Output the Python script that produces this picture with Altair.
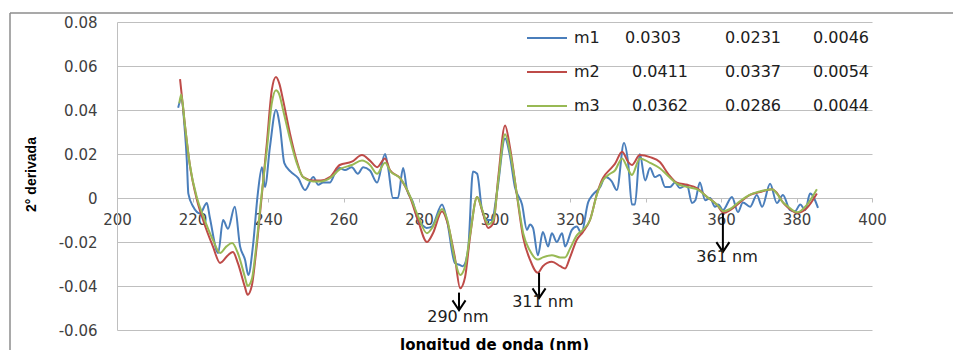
import altair as alt
import pandas as pd

# ---------------- data ----------------
series_names = ["m1", "m2", "m3"]
series_colors = ["#4A7EBB", "#BE4B48", "#98B954"]

m1_nm = [216.2, 217, 218, 218.5, 218.9, 220.2, 222, 223.8, 224.6, 226.8, 228.1, 229.4, 231.2, 232.6,
         233.9, 234.8, 236, 237.3, 238.4, 239.2, 240.5, 242.1, 243.2, 244.3, 246, 248, 249.8, 252,
         253.3, 254.6, 256.4, 257.7, 259, 260.4, 262.2, 263.8, 265.2, 267, 268.9, 271, 271.8, 273.1,
         274.4, 275.8, 276.8, 278.4, 279.7, 281, 282, 283.4, 286.1, 287.4, 289.5, 290.9, 291.6, 293,
         294.3, 295.4, 296.7, 298, 299.3, 300.7, 302.8, 304, 305.4, 307.3, 308.6, 309.4, 310.2, 311.5,
         312.8, 314.2, 315.2, 316.5, 317.9, 318.7, 320.5, 321.8, 323, 324.8, 326, 328, 329.3, 331,
         332.4, 334.3, 335.4, 336.4, 337.2, 338.5, 339.9, 341.2, 342.5, 343.8, 345.2, 346.5, 347.8,
         349.1, 351, 352.3, 353.2, 354.4, 355.8, 357.1, 358.4, 359.3, 360.5, 362.9, 364.5, 365.8,
         367.7, 369.5, 370.9, 373, 374.8, 376.4, 378.3, 379.6, 381, 382.3, 383.6, 385.7]
m1_val = [0.041, 0.045, 0.030, 0.017, 0.002, -0.004, -0.007, -0.0023, -0.009, -0.025, -0.010, -0.014,
          -0.004, -0.022, -0.028, -0.035, -0.022, 0.002, 0.014, 0.005, 0.023, 0.040, 0.032, 0.016,
          0.012, 0.009, 0.0036, 0.0095, 0.006, 0.007, 0.007, 0.011, 0.0136, 0.0127, 0.014, 0.011,
          0.014, 0.0125, 0.007, 0.020, 0.014, 0.000, 0.000, 0.0136, 0.004, -0.002, -0.010, -0.0125,
          -0.0136, -0.013, -0.003, -0.010, -0.0295, -0.0305, -0.031, -0.0236, 0.012, 0.011, -0.0055,
          -0.010, -0.010, 0.003, 0.027, 0.020, 0.005, -0.003, -0.0145, -0.012, -0.0136, -0.026,
          -0.0155, -0.022, -0.016, -0.020, -0.016, -0.022, -0.0145, -0.013, -0.016, -0.002, 0.0014,
          0.005, 0.0095, 0.0077, 0.0036, 0.025, 0.016, -0.003, -0.003, 0.020, 0.008, 0.0136, 0.0095,
          0.0105, 0.005, 0.005, 0.007, 0.0045, 0.006, -0.0023, -0.001, 0.007, -0.001, 0.000, -0.004,
          -0.003, -0.0055, 0.0005, -0.0064, -0.002, -0.004, 0.0014, -0.004, 0.0065, -0.0023, 0.0014,
          -0.0055, -0.006, -0.003, -0.0055, 0.002, -0.0045]

m2_nm = [216.7, 218, 219.3, 221.2, 222.8, 225.4, 227.3, 229.4, 230.7, 232, 233.9, 234.6, 235.7, 237,
         238.4, 239.7, 241, 242.1, 243, 244, 245.8, 247.6, 249.3, 252, 254, 256.4, 259, 262.2, 264.9,
         267, 268.9, 271, 272.3, 275, 277.6, 279.7, 282.1, 283.7, 286.1, 287.5, 289.5, 290.9, 292.2,
         293.5, 295.4, 296.7, 298.3, 299.7, 301, 302.8, 304.1, 306, 307.6, 309.4, 311.5, 312.8, 315.2,
         317.4, 318.7, 320, 321.8, 323.4, 325.3, 327.2, 328.7, 330.6, 331.9, 333.8, 335.4, 336.4,
         338.5, 341.2, 343.8, 346, 348.3, 351, 353.6, 356.3, 358.9, 360.7, 362.4, 365, 367.7, 370.3,
         373.5, 374.8, 376.4, 377.5, 380.2, 382.8, 385.4]
m2_val = [0.054, 0.033, 0.015, -0.001, -0.010, -0.022, -0.0295, -0.026, -0.0245, -0.0295, -0.0405,
          -0.044, -0.040, -0.022, 0.002, 0.025, 0.049, 0.055, 0.052, 0.0445, 0.0295, 0.017, 0.0095,
          0.008, 0.008, 0.0095, 0.015, 0.0165, 0.0195, 0.017, 0.014, 0.018, 0.0127, 0.009, 0.0005,
          -0.010, -0.020, -0.016, -0.006, -0.011, -0.027, -0.041, -0.036, -0.018, 0.0005, -0.0055,
          -0.0136, -0.0114, 0.0095, 0.033, 0.023, 0.0005, -0.018, -0.028, -0.034, -0.031, -0.029,
          -0.031, -0.032, -0.027, -0.019, -0.0155, -0.010, 0.0023, 0.009, 0.013, 0.0155, 0.021,
          0.0164, 0.015, 0.0195, 0.0186, 0.0164, 0.011, 0.007, 0.006, 0.0045, 0.0005, -0.003, -0.0068,
          -0.0055, -0.002, 0.0014, 0.0027, 0.004, 0.0023, -0.002, -0.004, -0.0068, -0.0045, 0.002]

m3_nm = [216.5, 217, 218, 219.3, 221.2, 222.8, 225.4, 227.3, 229, 230.5, 232, 233.9, 234.6, 235.7, 237,
         238.4, 239.7, 241, 242.1, 243, 244, 245.8, 247.6, 249.3, 252, 254, 256.4, 259, 262.2, 264.9,
         267, 268.9, 271, 272.5, 275, 277.6, 279.7, 282.1, 283.7, 286.1, 287.5, 289.5, 290.9, 292.2,
         293.5, 295.4, 296.7, 298.3, 299.7, 301, 302.8, 304.1, 306, 307.6, 309.4, 311.5, 312.8, 315.2,
         317.4, 318.7, 320, 321.8, 323.4, 325.3, 327.2, 328.7, 330.6, 331.9, 333.8, 335.4, 336.4,
         338.5, 341.2, 343.8, 346, 348.3, 351, 353.6, 356.3, 358.9, 360.7, 362.4, 365, 367.7, 370.3,
         373.5, 374.8, 376.4, 377.5, 380.2, 382.8, 385.4]
m3_val = [0.043, 0.047, 0.033, 0.015, 0.000, -0.008, -0.019, -0.025, -0.022, -0.0205, -0.025, -0.036,
          -0.040, -0.037, -0.020, 0.003, 0.022, 0.043, 0.049, 0.047, 0.040, 0.027, 0.016, 0.0095,
          0.0075, 0.0075, 0.009, 0.013, 0.015, 0.017, 0.015, 0.011, 0.016, 0.012, 0.009, 0.001,
          -0.008, -0.016, -0.013, -0.005, -0.010, -0.028, -0.035, -0.031, -0.017, 0.0005, -0.005,
          -0.012, -0.010, 0.008, 0.029, 0.021, 0.001, -0.016, -0.024, -0.028, -0.027, -0.026, -0.027,
          -0.027, -0.023, -0.017, -0.0145, -0.010, 0.002, 0.008, 0.011, 0.0125, 0.018, 0.013, 0.0105,
          0.018, 0.016, 0.0135, 0.010, 0.0065, 0.005, 0.004, 0.0005, -0.003, -0.006, -0.005, -0.0015,
          0.0015, 0.003, 0.004, 0.002, -0.002, -0.0035, -0.0065, -0.003, 0.004]

legend_col1 = ["0.0303", "0.0411", "0.0362"]
legend_col2 = ["0.0231", "0.0337", "0.0286"]
legend_col3 = ["0.0046", "0.0054", "0.0044"]

ann_labels = ["290 nm", "311 nm", "361 nm"]
ann_nm = [290.6, 311.8, 360.5]
ann_top = [-0.043, -0.034, -0.007]
ann_tip = [-0.051, -0.0455, -0.0245]
ann_text_nm = [290.3, 312.8, 361.6]
ann_text_val = [-0.054, -0.0473, -0.0268]

x_ticks = [200, 220, 240, 260, 280, 300, 320, 340, 360, 380, 400]
y_ticks = [-0.06, -0.04, -0.02, 0, 0.02, 0.04, 0.06, 0.08]

# ---------------- tables ----------------
rows = []
for name, nms, vals in [("m1", m1_nm, m1_val), ("m2", m2_nm, m2_val), ("m3", m3_nm, m3_val)]:
    for a, b in zip(nms, vals):
        rows.append({"series": name, "nm": a, "val": b})
df = pd.DataFrame(rows)

ann = pd.DataFrame({"label": ann_labels, "nm": ann_nm, "top": ann_top, "tip": ann_tip,
                    "tnm": ann_text_nm, "tval": ann_text_val})

W, H = 755, 308
FONT = "DejaVu Sans"
GRID = "#bfbfbf"

x_scale = alt.Scale(domain=[200, 400], nice=False, zero=False)
y_scale = alt.Scale(domain=[-0.06, 0.08], nice=False, zero=False)

lines = alt.Chart(df).mark_line(interpolate="monotone", strokeWidth=2).encode(
    x=alt.X("nm:Q", scale=x_scale,
            axis=alt.Axis(values=x_ticks, offset=-132, title=None, grid=False,
                          domainColor=GRID, tickColor=GRID, tickSize=4, labelPadding=10,
                          labelFont=FONT, labelFontSize=15, labelColor="#404040",
                          labelFlush=False, labelOverlap=False)),
    y=alt.Y("val:Q", scale=y_scale,
            axis=alt.Axis(values=y_ticks, title="2° derivada", grid=True, gridColor=GRID,
                          domainColor=GRID, ticks=False, labelPadding=20,
                          labelFont=FONT, labelFontSize=15, labelColor="#404040",
                          labelExpr="datum.value == 0 ? '0' : (datum.value < 0 ? '-' : '') + format(abs(datum.value), '.2f')",
                          labelFlush=False, labelOverlap=False,
                          titleFont="Liberation Sans", titleFontSize=14,
                          titleFontWeight="bold", titleColor="#000000",
                          titleAngle=-90, titleX=-79, titleY=152, titleAlign="center",
                          titleBaseline="bottom")),
    color=alt.Color("series:N", scale=alt.Scale(domain=series_names, range=series_colors), legend=None),
    detail="series:N",
)

arrows = alt.Chart(ann).mark_rule(color="#000000", strokeWidth=2).encode(
    x=alt.X("nm:Q", scale=x_scale), y=alt.Y("top:Q", scale=y_scale), y2="tip:Q")
heads = alt.Chart(ann).mark_point(shape="M -1 -1.5 L 0 0 L 1 -1.5", filled=False, size=170,
                                  color="#000000", strokeWidth=2, opacity=1).encode(
    x=alt.X("nm:Q", scale=x_scale), y=alt.Y("tip:Q", scale=y_scale))
ann_text = alt.Chart(ann).mark_text(font=FONT, fontSize=16, color="#202020", baseline="middle",
                                    align="center").encode(
    x=alt.X("tnm:Q", scale=x_scale), y=alt.Y("tval:Q", scale=y_scale), text="label:N")

one = pd.DataFrame({"a": [0]})
layers = [lines, arrows, heads, ann_text]

# legend (inside plot, top right)
row_y = [16, 50, 84]
col1_x = [508, 515, 515]
for i in range(3):
    layers.append(alt.Chart(one).mark_rule(strokeWidth=2, color=series_colors[i]).encode(
        x=alt.value(410), x2=alt.value(450), y=alt.value(row_y[i])))
    for txt, xx in [(series_names[i], 457), (legend_col1[i], col1_x[i]),
                    (legend_col2[i], 608), (legend_col3[i], 696)]:
        layers.append(alt.Chart(one).mark_text(font=FONT, fontSize=16, color="#202020",
                                               align="left", baseline="middle", text=txt).encode(
            x=alt.value(xx), y=alt.value(row_y[i])))

# x axis title
layers.append(alt.Chart(one).mark_text(font=FONT, fontSize=15, fontWeight="bold", color="#000000",
                                       align="center", baseline="middle",
                                       text="longitud de onda (nm)").encode(
    x=alt.value(W / 2), y=alt.value(323)))

# outer chart-area border (top and left)
layers.append(alt.Chart(one).mark_rule(color="#8c8c8c", strokeWidth=1.5).encode(
    x=alt.value(-107), x2=alt.value(850), y=alt.value(-9)))
layers.append(alt.Chart(one).mark_rule(color="#8c8c8c", strokeWidth=1.5).encode(
    x=alt.value(-107), y=alt.value(-9), y2=alt.value(340)))

chart = alt.layer(*layers).properties(
    width=W, height=H,
    autosize=alt.AutoSizeParams(type="none"),
    padding={"left": 109, "top": 14, "right": 81, "bottom": 20},
    background="white",
).configure_view(stroke=None)

chart.save("out.html", embed_options={"renderer": "svg", "actions": False})
